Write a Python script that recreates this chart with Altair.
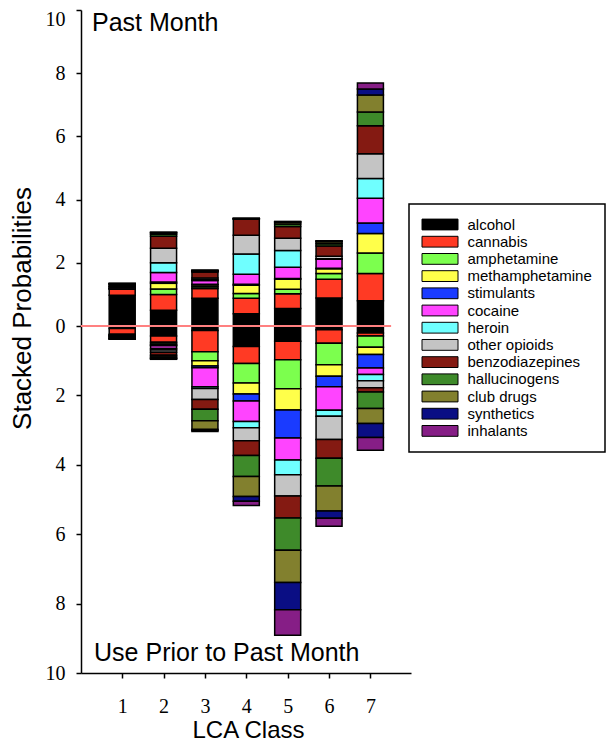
import altair as alt
import pandas as pd

classes = [1, 2, 3, 4, 5, 6, 7]

drugs = ["alcohol", "cannabis", "amphetamine", "methamphetamine", "stimulants",
         "cocaine", "heroin", "other opioids", "benzodiazepines", "hallucinogens",
         "club drugs", "synthetics", "inhalants"]

colors = ["#000000", "#FF3A24", "#7CFF4E", "#FFFF4A", "#1A3BFF", "#FF44FF",
          "#6FFFFF", "#C4C4C4", "#841A12", "#3E8A2A", "#82802E", "#0A0E84", "#861E86"]

# Past month use (stacked upward), one list per LCA class, in drug order
past_month = [
    [0.97, 0.19, 0.02, 0.01, 0.01, 0.04, 0.01, 0.02, 0.05, 0.01, 0.01, 0.005, 0.005],
    [0.50, 0.50, 0.17, 0.18, 0.04, 0.30, 0.31, 0.46, 0.38, 0.06, 0.05, 0.01, 0.01],
    [0.88, 0.31, 0.05, 0.06, 0.02, 0.12, 0.02, 0.06, 0.19, 0.02, 0.02, 0.01, 0.01],
    [0.39, 0.49, 0.15, 0.26, 0.03, 0.32, 0.64, 0.59, 0.51, 0.01, 0.01, 0.005, 0.005],
    [0.55, 0.47, 0.14, 0.32, 0.02, 0.36, 0.53, 0.39, 0.37, 0.08, 0.05, 0.02, 0.01],
    [0.89, 0.59, 0.18, 0.15, 0.02, 0.28, 0.02, 0.08, 0.32, 0.07, 0.07, 0.02, 0.01],
    [0.80, 0.86, 0.65, 0.62, 0.33, 0.78, 0.63, 0.78, 0.89, 0.43, 0.54, 0.19, 0.19],
]

# Use prior to past month (stacked downward)
prior_use = [
    [0.07, 0.17, 0.02, 0.01, 0.01, 0.02, 0.01, 0.02, 0.02, 0.01, 0.01, 0.005, 0.005],
    [0.29, 0.18, 0.05, 0.03, 0.02, 0.08, 0.04, 0.07, 0.08, 0.05, 0.04, 0.01, 0.02],
    [0.13, 0.61, 0.26, 0.15, 0.05, 0.55, 0.05, 0.32, 0.28, 0.33, 0.25, 0.03, 0.03],
    [0.59, 0.49, 0.56, 0.32, 0.20, 0.59, 0.18, 0.38, 0.42, 0.61, 0.57, 0.14, 0.12],
    [0.44, 0.53, 0.84, 0.61, 0.81, 0.63, 0.43, 0.61, 0.63, 0.93, 0.93, 0.79, 0.73],
    [0.11, 0.39, 0.62, 0.33, 0.30, 0.68, 0.17, 0.67, 0.54, 0.80, 0.72, 0.21, 0.23],
    [0.20, 0.09, 0.32, 0.21, 0.39, 0.19, 0.18, 0.20, 0.12, 0.48, 0.43, 0.40, 0.37],
]

y_ticks = [-10, -8, -6, -4, -2, 0, 2, 4, 6, 8, 10]

panel_labels = ["Past Month", "Use Prior to Past Month"]
panel_label_x = [0.27, 0.32]
panel_label_y = [9.335, -9.66]

rows = []
for ci, c in enumerate(classes):
    for di, d in enumerate(drugs):
        rows.append({"cls": c, "drug": d, "order": di, "value": past_month[ci][di]})
        rows.append({"cls": c, "drug": d, "order": di, "value": -prior_use[ci][di]})
df = pd.DataFrame(rows)

label_df = pd.DataFrame({"label": panel_labels, "x": panel_label_x, "y": panel_label_y})

SANS = "Liberation Sans"
SERIF = "Liberation Serif"

x_scale = alt.Scale(domain=[0.125, 7.86], nice=False, zero=False)
y_scale = alt.Scale(domain=[-10, 0, 10], range=[663, 316, 0], nice=False, zero=False)

bars = alt.Chart(df).transform_stack(
    stack="value", as_=["y0", "y1"], groupby=["cls"],
    sort=[alt.SortField("order", order="ascending")]
).mark_bar(size=26, stroke="black", strokeWidth=1.5, opacity=1).encode(
    x=alt.X("cls:Q", scale=x_scale,
            axis=alt.Axis(values=classes, format="d", title="LCA Class",
                          labelFont=SERIF, labelFontSize=20, labelPadding=18,
                          titleFont=SANS, titleFontSize=24, titleFontWeight="normal",
                          titleY=64, titleX=167, titleBaseline="alphabetic")),
    y=alt.Y("y0:Q", scale=y_scale,
            axis=alt.Axis(values=y_ticks, labelExpr="abs(datum.value)",
                          title="Stacked Probabilities",
                          labelFont=SERIF, labelFontSize=20, labelPadding=11,
                          labelOffset={"condition": {"test": "datum.value == 10", "value": 9}, "value": 0},
                          titleFont=SANS, titleFontSize=26, titleFontWeight="normal",
                          titleAngle=-90, titleX=-59, titleY=298,
                          titleAlign="center", titleBaseline="middle")),
    y2="y1:Q",
    color=alt.Color("drug:N", sort=drugs,
                    scale=alt.Scale(domain=drugs, range=colors),
                    legend=alt.Legend(title=None, orient="none", legendX=328, legendY=194,
                                      direction="vertical",
                                      symbolType="M-3,-0.9H3V0.9H-3Z", symbolSize=144,
                                      symbolStrokeColor="black", symbolStrokeWidth=1,
                                      symbolOpacity=1, symbolOffset=10.5, labelOffset=20,
                                      labelFont=SANS, labelFontSize=15, labelColor="black",
                                      labelLimit=300, rowPadding=1.2, padding=13,
                                      strokeColor="black", fillColor="white")),
)

zero_line = alt.Chart(label_df.head(1)).mark_rule(color="#FF8080", strokeWidth=2).encode(
    x=alt.datum(0), x2=alt.datum(7.5), y=alt.datum(0)
)

panel_text = alt.Chart(label_df).mark_text(
    font=SANS, fontSize=25, align="left", baseline="alphabetic", color="black"
).encode(x=alt.X("x:Q", scale=x_scale), y=alt.Y("y:Q", scale=y_scale), text="label:N")

chart = alt.layer(bars, zero_line, panel_text).properties(
    width=330, height=663,
    autosize=alt.AutoSizeParams(type="none"),
    padding={"left": 73, "top": 2, "right": 195, "bottom": 69},
).configure_view(stroke=None).configure_axis(
    grid=False, domainColor="black", domainWidth=1.5, tickColor="black",
    tickWidth=1.5, tickSize=5, labelColor="black", titleColor="black"
).configure_legend(strokeWidth=1.5)

chart.save("out.html", embed_options={"renderer": "svg", "actions": False})
